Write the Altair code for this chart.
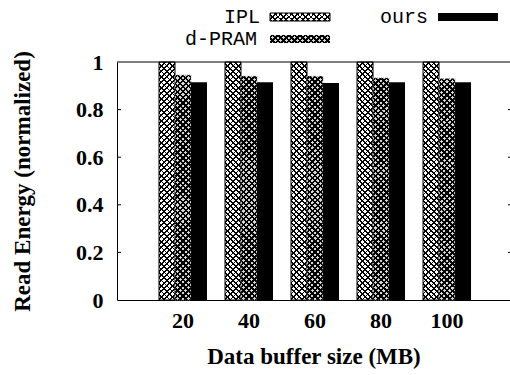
import math
import altair as alt
import pandas as pd

sizes = ["20", "40", "60", "80", "100"]
series = ["IPL", "d-PRAM", "ours"]
ipl = [1.0, 1.0, 1.0, 1.0, 1.0]
dpram = [0.945, 0.94, 0.94, 0.933, 0.93]
ours = [0.915, 0.915, 0.912, 0.915, 0.915]
yticks = [0, 0.2, 0.4, 0.6, 0.8, 1]

W, H = 393, 238
SERIF = "Liberation Serif"
MONO = "Liberation Mono"

rows = []
for name, vals in zip(series, [ipl, dpram, ours]):
    for s, v in zip(sizes, vals):
        rows.append({"size": s, "series": name, "value": v})
df = pd.DataFrame(rows)


def hatch(w, h, hp, lw, flip, phase=0.0):
    r2 = math.sqrt(2)
    D = (w + h) / r2
    p = hp / r2
    k = (w + h) / (w * w + h * h)
    a, b = k * w, k * h
    if flip:
        x1, y1, x2, y2 = 1, 0, 1 - a, b
    else:
        x1, y1, x2, y2 = 0, 0, a, b
    clear, ink = "rgba(0,0,0,0)", "#000000"
    stops = []
    i = 0
    while True:
        s = (i * p + phase) / D
        if s >= 1:
            break
        e = min((i * p + phase + lw) / D, 1)
        stops += [{"offset": s, "color": clear}, {"offset": s, "color": ink},
                  {"offset": e, "color": ink}, {"offset": e, "color": clear}]
        i += 1
    return {"gradient": "linear", "x1": x1, "y1": y1, "x2": x2, "y2": y2,
            "stops": stops}


IPL_HP, IPL_LW = 5.5, 1.1
DP_HP, DP_LW = 5.5, 1.7
DP_BG = "#d4d4d4"

xscale = alt.Scale(domain=sizes, paddingInner=0, paddingOuter=0.477, align=0.524)
X = alt.X("size:N", sort=sizes, scale=xscale,
          axis=alt.Axis(title="Data buffer size (MB)", labelAngle=0, ticks=False,
                        labelFont=SERIF, labelFontWeight="bold", labelFontSize=22,
                        labelColor="black", labelPadding=10,
                        titleFont=SERIF, titleFontWeight="bold", titleFontSize=23,
                        titleColor="black", titlePadding=14,
                        domainColor="black", domainWidth=1, grid=False))
XO = alt.XOffset("series:N", sort=series,
                 scale=alt.Scale(domain=series, paddingInner=0, paddingOuter=0.5625))
Y = alt.Y("value:Q", scale=alt.Scale(domain=[0, 1]),
          axis=alt.Axis(title="Read Energy (normalized)", values=yticks, ticks=False,
                        format="~g", labelFont=SERIF, labelFontWeight="bold",
                        labelFontSize=22, labelColor="black", labelPadding=14,
                        titleFont=SERIF, titleFontWeight="bold", titleFontSize=23,
                        titleColor="black", titleX=-83, titleY=H / 2,
                        titleBaseline="bottom",
                        domainColor="black", domainWidth=1, grid=False))

base = alt.Chart(df).encode(x=X, xOffset=XO, y=Y)
ipl_df = base.transform_filter(alt.datum.series == "IPL")
dp_df = base.transform_filter(alt.datum.series == "d-PRAM")
ours_df = base.transform_filter(alt.datum.series == "ours")

layers = [
    ipl_df.mark_bar(fill="white"),
    ipl_df.mark_bar(fill=hatch(16, 238, IPL_HP, IPL_LW, False)),
    ipl_df.mark_bar(fill=hatch(16, 238, IPL_HP, IPL_LW, True), stroke="black", strokeWidth=1),
    dp_df.mark_bar(fill=DP_BG),
    dp_df.mark_bar(fill=hatch(16, 224, DP_HP, DP_LW, False, 1.0)),
    dp_df.mark_bar(fill=hatch(16, 224, DP_HP, DP_LW, True, 1.0), stroke="#888",
                   strokeWidth=0.8, strokeDash=[1, 1]),
    ours_df.mark_bar(fill="black"),
]

# frame: top line and inward ticks
one = alt.Chart(pd.DataFrame({"k": [0]}))
layers.append(one.mark_rule(color="black", strokeWidth=1).encode(
    x=alt.value(0), x2=alt.value(W + 5), y=alt.value(0)))
tick_df = alt.Chart(pd.DataFrame({"v": yticks[1:-1]}))
layers.append(tick_df.mark_rule(color="black", strokeWidth=1).encode(
    y=alt.Y("v:Q"), x=alt.value(0), x2=alt.value(4)))
layers.append(tick_df.mark_rule(color="black", strokeWidth=1).encode(
    y=alt.Y("v:Q"), x=alt.value(W - 2), x2=alt.value(W + 2)))


def legend_item(label, tx, ty, sx, fills, stroke=None):
    out = [one.mark_text(font=MONO, fontSize=20, align="right", baseline="middle",
                         color="black").encode(x=alt.value(tx), y=alt.value(ty),
                                               text=alt.value(label))]
    for f in fills:
        out.append(one.mark_rect(fill=f).encode(
            x=alt.value(sx), x2=alt.value(sx + 60), y=alt.value(ty - 4),
            y2=alt.value(ty + 4)))
    if stroke:
        out.append(one.mark_rect(fillOpacity=0, stroke=stroke, strokeWidth=1).encode(
            x=alt.value(sx), x2=alt.value(sx + 60), y=alt.value(ty - 4),
            y2=alt.value(ty + 4)))
    return out


layers += legend_item(series[0], 143, -45, 153,
                      ["white", hatch(60, 8, IPL_HP, IPL_LW, False),
                       hatch(60, 8, IPL_HP, IPL_LW, True)], stroke="black")
layers += legend_item(series[1], 140, -23, 153,
                      [DP_BG, hatch(60, 8, DP_HP, DP_LW, False, 1.0),
                       hatch(60, 8, DP_HP, DP_LW, True, 1.0)])
layers += legend_item(series[2], 311, -45, 321, ["black"])

chart = alt.layer(*layers).properties(
    width=W, height=H,
    padding={"left": 117, "top": 62, "right": 0, "bottom": 75},
    autosize=alt.AutoSizeParams(type="none"),
    background="white",
).configure_view(stroke=None)

chart.save("out.html", embed_options={"renderer": "svg", "actions": False})
